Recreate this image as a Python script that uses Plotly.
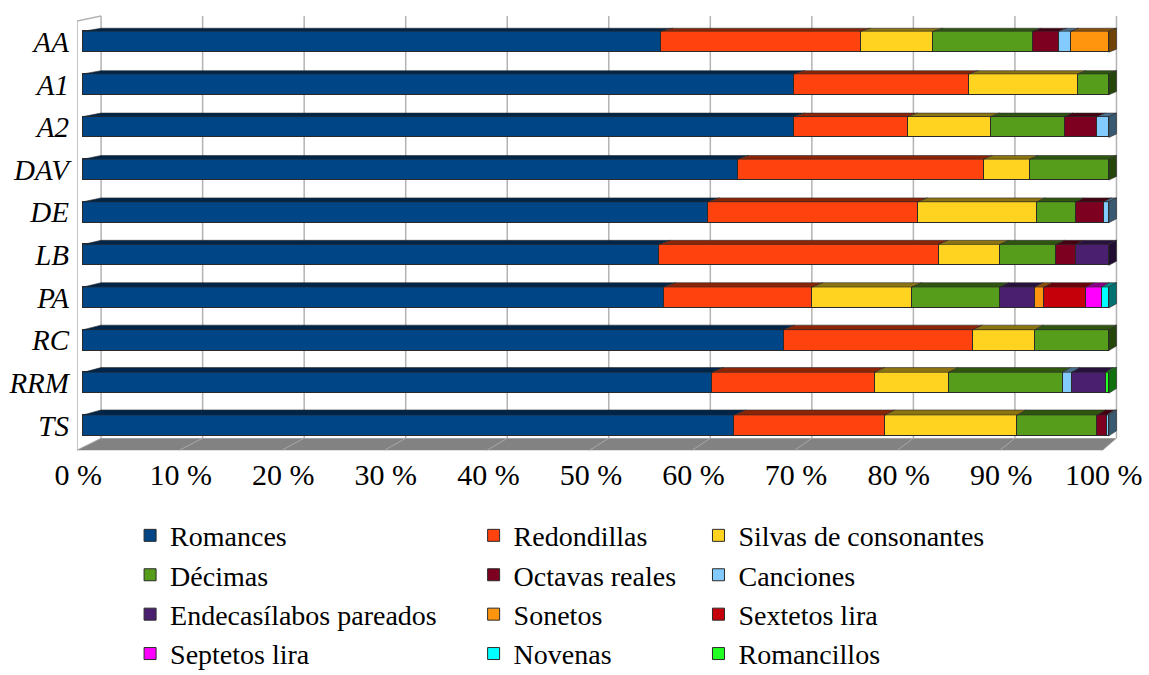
import plotly.graph_objects as go

# Works (rows, top to bottom)
categories = ["AA", "A1", "A2", "DAV", "DE", "LB", "PA", "RC", "RRM", "TS"]

# Share of each stanza form per work, in %
romances      = [56.3, 69.3, 69.3, 63.8, 60.9, 56.1, 56.6, 68.3, 61.3, 63.5]
redondillas   = [19.5, 17.1, 11.1, 24.0, 20.5, 27.3, 14.5, 18.5, 15.9, 14.7]
silvas        = [7.1, 10.6, 8.1, 4.5, 11.6, 6.0, 9.7, 6.0, 7.2, 12.9]
decimas       = [9.7, 3.0, 7.2, 7.7, 3.8, 5.5, 8.6, 7.2, 11.1, 7.8]
octavas       = [2.5, 0, 3.2, 0, 2.7, 1.9, 0, 0, 0, 0.9]
canciones     = [1.2, 0, 1.1, 0, 0.5, 0, 0, 0, 0.9, 0.2]
endecasilabos = [0, 0, 0, 0, 0, 3.2, 3.4, 0, 3.3, 0]
sonetos       = [3.7, 0, 0, 0, 0, 0, 0.9, 0, 0, 0]
sextetos      = [0, 0, 0, 0, 0, 0, 4.1, 0, 0, 0]
septetos      = [0, 0, 0, 0, 0, 0, 1.5, 0, 0, 0]
novenas       = [0, 0, 0, 0, 0, 0, 0.7, 0, 0, 0]
romancillos   = [0, 0, 0, 0, 0, 0, 0, 0, 0.3, 0]

series_names = ["Romances", "Redondillas", "Silvas de consonantes", "Décimas",
                "Octavas reales", "Canciones", "Endecasílabos pareados", "Sonetos",
                "Sextetos lira", "Septetos lira", "Novenas", "Romancillos"]
series_values = [romances, redondillas, silvas, decimas, octavas, canciones,
                 endecasilabos, sonetos, sextetos, septetos, novenas, romancillos]
series_colors = ["#004586", "#ff420e", "#ffd320", "#579d1c", "#7e0021", "#83caff",
                 "#4b1f6f", "#ff950e", "#c5000b", "#ff00ff", "#00ffff", "#22ff22"]

x_ticks = [0, 10, 20, 30, 40, 50, 60, 70, 80, 90, 100]
x_tick_text = [f"{v} %" for v in x_ticks]

SERIF = "Liberation Serif"
BAR_W = 0.49           # bar thickness in category units
PX_PER_ROW = 42.6      # vertical pixels per category


def shade(hex_color, f):
    h = hex_color.lstrip("#")
    r, g, b = (int(h[i:i + 2], 16) for i in (0, 2, 4))
    return "#%02x%02x%02x" % (int(r * f), int(g * f), int(b * f))


def back(v):
    # position of a value on the rear plane of the pseudo-3D box
    return 1.75 + 0.99 * v


def rise(i):
    # vertical depth offset (in category units) for row i
    return (3 + 2 * i / 9) / PX_PER_ROW


fig = go.Figure()

legend_ids = ["legend", "legend2", "legend3"]
for k, (name, vals, col) in enumerate(zip(series_names, series_values, series_colors)):
    fig.add_trace(go.Bar(
        y=categories,
        x=[v if v else None for v in vals],
        name=name,
        orientation="h",
        width=BAR_W,
        marker=dict(color=col, line=dict(color="#2a2a2a", width=1)),
        legend=legend_ids[k % 3],
        legendgroup=name,
        hovertemplate="%{y}: %{x:.1f} %<extra>" + name + "</extra>",
    ))

shapes = []

# floor of the box
fy_back, fy_front = 9.30, 9.58
shapes.append(dict(type="path", xref="x", yref="y", layer="below",
                   path=f"M {-0.6},{fy_front} L {99.4},{fy_front} L {back(100)},{fy_back} "
                        f"L {back(0)},{fy_back} Z",
                   fillcolor="#828282", line=dict(width=0)))

# rear-plane grid lines and their continuation on the floor
top_back = -0.603
for v in x_ticks:
    shapes.append(dict(type="line", xref="x", yref="y", layer="below",
                       x0=back(v), x1=back(v), y0=top_back, y1=fy_back,
                       line=dict(color="#b3b3b3", width=1.5)))
    shapes.append(dict(type="line", xref="x", yref="y", layer="below",
                       x0=back(v), x1=v - 0.6, y0=fy_back, y1=fy_front,
                       line=dict(color="#a8a8a8", width=1)))

# left side wall outline
shapes.append(dict(type="path", xref="x", yref="y", layer="below",
                   path=f"M {-0.6},{fy_front} L {-0.6},{-0.486} L {back(0)},{top_back}",
                   line=dict(color="#b3b3b3", width=1.5)))

# top faces and end caps of the bars
for i, cat in enumerate(categories):
    yt = i - BAR_W / 2
    yb = i + BAR_W / 2
    dy = rise(i)
    start = 0.0
    last = None
    for vals, col in zip(series_values, series_colors):
        v = vals[i]
        if not v:
            continue
        end = start + v
        shapes.append(dict(type="path", xref="x", yref="y", layer="above",
                           path=f"M {start},{yt} L {end},{yt} L {back(end)},{yt - dy} "
                                f"L {back(start)},{yt - dy} Z",
                           fillcolor=shade(col, 0.55),
                           line=dict(color="#2a2a2a", width=0.6)))
        last = (end, col)
        start = end
    end, col = last
    shapes.append(dict(type="path", xref="x", yref="y", layer="above",
                       path=f"M {end},{yt} L {end},{yb} L {back(end)},{yb - dy} "
                            f"L {back(end)},{yt - dy} Z",
                       fillcolor=shade(col, 0.45),
                       line=dict(color="#2a2a2a", width=0.6)))

legend_common = dict(orientation="v", xanchor="left", yanchor="top",
                     font=dict(family=SERIF, size=28, color="#000000"),
                     bgcolor="rgba(0,0,0,0)", traceorder="normal",
                     tracegroupgap=0, itemwidth=30, itemclick=False)

LEG_Y = -0.1365
fig.update_layout(
    width=1149, height=675,
    margin=dict(l=77, r=31, t=14, b=224, autoexpand=False),
    font=dict(family=SERIF, color="#000000"),
    paper_bgcolor="white", plot_bgcolor="white",
    barmode="stack",
    bargap=0,
    showlegend=True,
    shapes=shapes,
    xaxis=dict(range=[-0.6, 100.9], tickmode="array", tickvals=x_ticks,
               ticktext=x_tick_text, automargin=False,
               showgrid=False, zeroline=False, showline=False, ticks="",
               ticklabelshift=-5, ticklabelstandoff=3,
               tickfont=dict(family=SERIF, size=30, color="#000000")),
    yaxis=dict(type="category", categoryorder="array", categoryarray=categories,
               range=[9.6, -0.65], showgrid=False, zeroline=False, showline=False,
               ticks="", ticklabelstandoff=7, automargin=False,
               tickfont=dict(family=SERIF, size=29, color="#000000", style="italic")),
    legend=dict(legend_common, x=0.051, y=LEG_Y),
    legend2=dict(legend_common, x=0.381, y=LEG_Y),
    legend3=dict(legend_common, x=0.597, y=LEG_Y),
)

fig.write_html("out.html")
